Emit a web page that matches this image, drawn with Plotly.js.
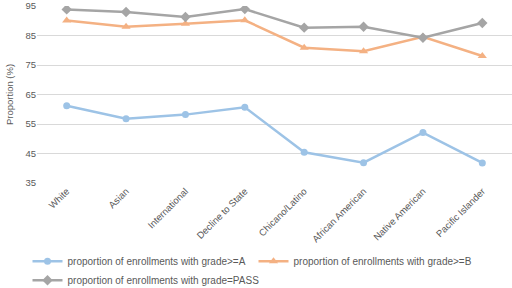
<!DOCTYPE html>
<html><head><meta charset="utf-8">
<script src="https://cdn.plot.ly/plotly-3.0.1.min.js"></script>
<style>html,body{margin:0;padding:0;background:#fff}#c{width:512px;height:288px}</style>
</head><body><div id="c"></div>
<script>
const categories = ["White","Asian","International","Decline to State","Chicano/Latino","African American","Native American","Pacific Islander"];
const gradeA = [61.2, 56.8, 58.2, 60.7, 45.4, 41.9, 52.1, 41.8];
const gradeB = [90.1, 88.0, 89.0, 90.2, 80.9, 79.7, 84.6, 78.1];
const gradePass = [93.9, 93.0, 91.3, 94.0, 87.7, 88.0, 84.3, 89.3];
const names = ["proportion of enrollments with grade>=A","proportion of enrollments with grade>=B","proportion of enrollments with grade=PASS"];
const yTicks = [35,45,55,65,75,85,95];

const font = "Liberation Sans, Arial, sans-serif";
const txt = "#595959";
const traces = [
  {x: categories, y: gradeA, name: names[0], mode: "lines+markers", line:{color:"#9DC3E6", width:2.5}, marker:{symbol:"circle", size:7, color:"#9DC3E6"}},
  {x: categories, y: gradeB, name: names[1], mode: "lines+markers", line:{color:"#F4B183", width:2.5}, marker:{symbol:"triangle-up", size:8, color:"#F4B183"}},
  {x: categories, y: gradePass, name: names[2], mode: "lines+markers", line:{color:"#A5A5A5", width:2.5}, marker:{symbol:"diamond", size:8, color:"#A5A5A5"}}
];
const layout = {
  width:512, height:288,
  margin:{l:37, r:0, t:6, b:105, autoexpand:false},
  paper_bgcolor:"#fff", plot_bgcolor:"#fff",
  font:{family:font, size:9, color:txt},
  showlegend:true,
  legend:{orientation:"h", x:-0.02, xanchor:"left", y:-0.36, yanchor:"top", font:{size:10, color:txt}, entrywidth:181, tracegroupgap:0, itemwidth:30},
  xaxis:{type:"category", range:[-0.5,7.5], tickangle:-45, showgrid:false, showline:false, ticks:"", tickfont:{size:9.5, color:txt}, automargin:false},
  yaxis:{range:[35,95.05], tickvals:yTicks, showgrid:true, gridcolor:"#D9D9D9", gridwidth:1, zeroline:false, showline:false, ticks:"", ticklabeloverflow:"allow", tickfont:{size:9.5,color:txt}, automargin:false, title:{text:"Proportion (%)", font:{size:9.5,color:txt}, standoff:10}}
};
Plotly.newPlot("c", traces, layout, {displayModeBar:false, staticPlot:true});
</script></body></html>
